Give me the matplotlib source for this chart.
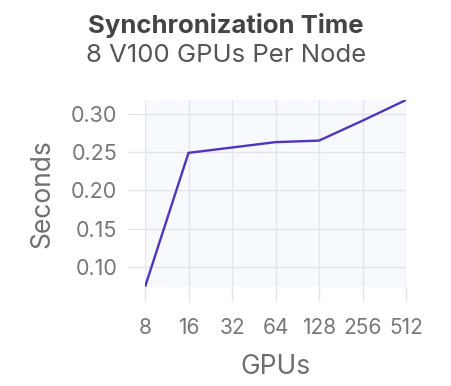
import matplotlib
matplotlib.use("Agg")
import matplotlib.pyplot as plt

gpus = ["8", "16", "32", "64", "128", "256", "512"]
seconds = [0.074, 0.249, 0.256, 0.263, 0.265, 0.291, 0.318]
y_ticks = [0.10, 0.15, 0.20, 0.25, 0.30]

plt.rcParams["font.family"] = ["Inter", "DejaVu Sans"]

fig = plt.figure(figsize=(4.52, 3.86), dpi=100)
ax = fig.add_axes([0.3208, 0.2565, 0.5775, 0.4845])

grid_col = "#e4e4ec"
ax.set_facecolor("#f6f9fd")
x = list(range(len(gpus)))
ax.plot(x, seconds, color="#5034bc", linewidth=1.7, solid_joinstyle="miter")

ax.set_xlim(0, len(gpus) - 1)
ax.set_ylim(min(seconds), max(seconds))
ax.set_xticks(x)
ax.set_xticklabels(gpus)
ax.set_yticks(y_ticks)
ax.set_yticklabels([f"{v:.2f}" for v in y_ticks])
ax.grid(True, color=grid_col, linewidth=1)
for s in ax.spines.values():
    s.set_visible(False)
ax.tick_params(axis="y", length=13, width=1, color=grid_col, pad=7,
               labelsize=15.5, labelcolor="#777777")
ax.tick_params(axis="x", length=11, width=1, color=grid_col, pad=11,
               labelsize=15, labelcolor="#777777")

ax.set_xlabel("GPUs", fontsize=19, color="#6f6f6f", labelpad=12)
ax.set_ylabel("Seconds", fontsize=19, color="#6f6f6f", labelpad=11)

fig.text(0.5, 0.933, "Synchronization Time", ha="center", va="center",
         fontsize=18.5, fontweight="bold", color="#444444")
fig.text(0.5, 0.857, "8 V100 GPUs Per Node", ha="center", va="center",
         fontsize=18.5, color="#555555")

fig.savefig("out.png", dpi=100)
